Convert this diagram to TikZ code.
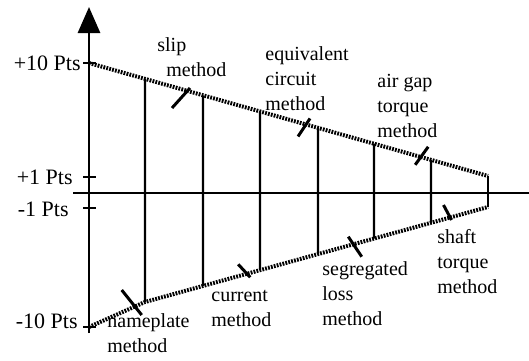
\documentclass[tikz,border=0pt]{standalone}
\usepackage{fontspec}
\setmainfont{Liberation Serif}
\usepackage{tikz}
\usetikzlibrary{arrows.meta,calc}
\tikzset{
  axisline/.style={line width=1.4pt},
  rangeline/.style={line width=2pt,dash pattern=on 0.9pt off 0.6pt},
  methodline/.style={line width=1.1pt},
  slash/.style={line width=1.5pt},
  ptlabel/.style={anchor=east,inner sep=0pt,font=\fontsize{11}{13}\selectfont},
  mlabel/.style={anchor=base west,align=left,inner sep=0pt,font=\fontsize{10}{12.5}\selectfont}
}

\begin{document}
\begin{tikzpicture}[x=0.5pt,y=0.5pt,>={Triangle[length=13pt,width=11pt]}]
  \useasboundingbox (0,0) rectangle (529,360);

  % --- Axes ---
  \coordinate (O)   at (89,27);
  \coordinate (Top) at (89,353);
  \coordinate (XL)  at (73,167);
  \coordinate (XR)  at (529,167);
  \draw[axisline,->] (O) -- (Top);
  \draw[axisline] (XL) -- (XR);

  % --- Ticks and point labels ---
  \foreach \y in {297,183,152,33}
    \draw[axisline] (83,\y) -- (96,\y);
  \node[ptlabel] (P10p) at (81,297)   {+10 Pts};
  \node[ptlabel] (P1p)  at (73,182.5) {+1 Pts};
  \node[ptlabel] (P1m)  at (69,150.5) {-1 Pts};
  \node[ptlabel] (P10m) at (78,39)    {-10 Pts};

  % --- Uncertainty band (dotted limits) ---
  \coordinate (T0) at (89,297);
  \coordinate (T1) at (488,184);
  \coordinate (B0) at (89,33);
  \coordinate (Bk) at (145,58);
  \coordinate (B1) at (488,153);
  \draw[rangeline] (T0) -- (T1);
  \draw[rangeline] (B0) -- (Bk) -- (B1);
  \draw[methodline] (T1) -- (B1);

  % --- Method spans ---
  \foreach \x in {145,203,260,318,374,431}
    \draw[methodline] ($(T0)!{(\x-89)/399}!(T1)$) -- ($(Bk)!{(\x-145)/343}!(B1)$);

  % --- Slash marks ---
  \draw[slash] (172,252) -- (190,272);
  \draw[slash] (298,223.5) -- (310,241.5);
  \draw[slash] (415.2,195.2) -- (428.2,213.2);
  \draw[slash] (121.7,70) -- (141.7,45);
  \draw[slash] (238.2,95.7) -- (250.2,82.7);
  \draw[slash] (348.3,123.3) -- (361.7,103.3);
  \draw[slash] (443.5,155) -- (451.5,140);

  % --- Method labels (anchored on the last line) ---
  \node[mlabel] (slip)      at (157,284)   {slip\\\hspace*{4.5pt}method};
  \node[mlabel] (equiv)     at (265,250)   {equivalent\\circuit\\method};
  \node[mlabel] (airgap)    at (377,222.7) {air gap\\torque\\method};
  \node[mlabel] (nameplate) at (107,8)     {nameplate\\method};
  \node[mlabel] (current)   at (211,34)    {current\\method};
  \node[mlabel] (segloss)   at (322,35)    {segregated\\loss\\method};
  \node[mlabel] (shaft)     at (437,67)    {shaft\\torque\\method};
\end{tikzpicture}
\end{document}
